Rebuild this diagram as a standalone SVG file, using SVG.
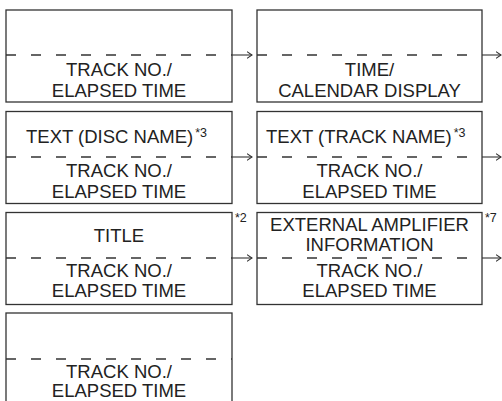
<svg xmlns="http://www.w3.org/2000/svg" width="502" height="401" viewBox="0 0 502 401">
<style>
.box{fill:#fff;stroke:#333;stroke-width:1.3}
.dash{stroke:#333;stroke-width:1.3;stroke-dasharray:10 15;fill:none}
.t{font-family:"Liberation Sans",Arial,sans-serif;font-size:18.5px;fill:#222;text-anchor:middle}
.ts{font-family:"Liberation Sans",Arial,sans-serif;font-size:18.5px;fill:#222}
.sup{font-family:"Liberation Sans",Arial,sans-serif;font-size:12.5px;fill:#222}
.arr{stroke:#333;stroke-width:1.1;fill:none}
</style>
<defs>
<marker id="ah" viewBox="0 0 6 8" refX="5.5" refY="4" markerWidth="6" markerHeight="8" markerUnits="userSpaceOnUse" orient="auto">
<path d="M0.5,0.6 L5.5,4 L0.5,7.4" fill="none" stroke="#333" stroke-width="1.1"/>
</marker>
</defs>
<rect width="502" height="401" fill="#fff"/>
<g id="node-l1">
<rect class="box" x="6" y="10" width="226" height="92"/>
<line class="dash" x1="6" y1="55" x2="232" y2="55"/>
<text class="t" x="119" y="76">TRACK NO./</text>
<text class="t" x="119" y="97">ELAPSED TIME</text>
</g>
<g id="node-r1">
<rect class="box" x="257" y="10" width="225" height="92"/>
<line class="dash" x1="257" y1="55" x2="482" y2="55"/>
<text class="t" x="369.5" y="76">TIME/</text>
<text class="t" x="369.5" y="97">CALENDAR DISPLAY</text>
</g>
<g id="node-l2">
<rect class="box" x="6" y="111.5" width="226" height="92"/>
<line class="dash" x1="6" y1="157" x2="232" y2="157"/>
<text class="ts" x="26" y="143">TEXT (DISC NAME)<tspan class="sup" dx="2" dy="-6">*3</tspan></text>
<text class="t" x="119" y="177">TRACK NO./</text>
<text class="t" x="119" y="198">ELAPSED TIME</text>
</g>
<g id="node-r2">
<rect class="box" x="257" y="111.5" width="225" height="92"/>
<line class="dash" x1="257" y1="157" x2="482" y2="157"/>
<text class="ts" x="266" y="143">TEXT (TRACK NAME)<tspan class="sup" dx="2" dy="-6">*3</tspan></text>
<text class="t" x="369.5" y="177">TRACK NO./</text>
<text class="t" x="369.5" y="198">ELAPSED TIME</text>
</g>
<g id="node-l3">
<rect class="box" x="6" y="212.5" width="226" height="92"/>
<line class="dash" x1="6" y1="258" x2="232" y2="258"/>
<text class="t" x="119" y="242">TITLE</text>
<text class="t" x="119" y="277">TRACK NO./</text>
<text class="t" x="119" y="297">ELAPSED TIME</text>
<text class="sup" x="235" y="222">*2</text>
</g>
<g id="node-r3">
<rect class="box" x="257" y="212.5" width="225" height="92"/>
<line class="dash" x1="257" y1="258" x2="482" y2="258"/>
<text class="t" x="369.5" y="231">EXTERNAL AMPLIFIER</text>
<text class="t" x="369.5" y="251">INFORMATION</text>
<text class="t" x="369.5" y="277">TRACK NO./</text>
<text class="t" x="369.5" y="297">ELAPSED TIME</text>
<text class="sup" x="485" y="222">*7</text>
</g>
<g id="node-l4">
<rect class="box" x="6" y="313" width="226" height="100"/>
<line class="dash" x1="6" y1="359" x2="232" y2="359"/>
<text class="t" x="119" y="378">TRACK NO./</text>
<text class="t" x="119" y="397">ELAPSED TIME</text>
</g>
<g id="connectors">
<line class="arr" x1="232" y1="55" x2="252" y2="55" marker-end="url(#ah)"/>
<line class="arr" x1="482" y1="55" x2="501" y2="55" marker-end="url(#ah)"/>
<line class="arr" x1="232" y1="157" x2="252" y2="157" marker-end="url(#ah)"/>
<line class="arr" x1="482" y1="157" x2="501" y2="157" marker-end="url(#ah)"/>
<line class="arr" x1="232" y1="258" x2="252" y2="258" marker-end="url(#ah)"/>
<line class="arr" x1="482" y1="258" x2="501" y2="258" marker-end="url(#ah)"/>
</g>
</svg>
